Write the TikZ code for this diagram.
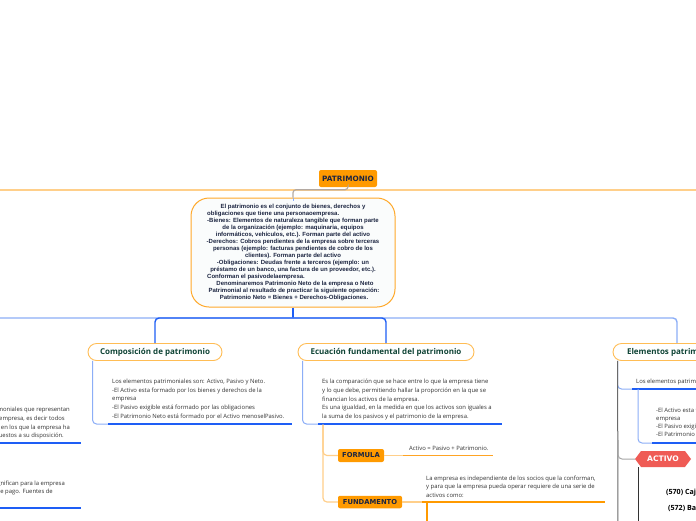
\documentclass[tikz,border=0pt]{standalone}
\usepackage{fontspec}
\setmainfont{Open Sans}
\newfontfamily\arialfam{Liberation Sans}
\newfontfamily\dejafam{DejaVu Sans}
\usetikzlibrary{shapes.symbols}

\definecolor{orbox}{HTML}{FF9A00}
\definecolor{orbord}{HTML}{FFA92B}
\definecolor{orpill}{HTML}{FFBD55}
\definecolor{orlight}{HTML}{FFCF8A}
\definecolor{ordark}{HTML}{FFA424}
\definecolor{blbright}{HTML}{1E5EF5}
\definecolor{bllight}{HTML}{8CAEF7}
\definecolor{navy}{HTML}{1C2541}
\definecolor{dgreen}{HTML}{0F4436}
\definecolor{txtc}{HTML}{333333}
\definecolor{actred}{HTML}{EF5B55}
\definecolor{linkgray}{HTML}{B4A9A1}
\definecolor{darkln}{HTML}{6A6A6A}
\definecolor{centfill}{HTML}{FAFCFC}

\newcommand\centfont{\arialfam\bfseries\fontsize{6.0}{7}\selectfont}
\newcommand\bodyfont{\fontsize{5.9}{7}\selectfont}
\newcommand\titlefont{\bfseries\fontsize{8}{9}\selectfont}
\newcommand\boxfont{\dejafam\bfseries\fontsize{6.8}{8}\selectfont}

\tikzset{
  pill/.style={draw=orpill, line width=0.9pt, fill=white, rounded corners=8.5pt,
    minimum height=17pt, inner sep=0pt, font=\titlefont, text=dgreen},
  obox/.style={fill=orbox, rounded corners=2pt, inner sep=0pt, font=\boxfont, text=navy},
  centline/.style={font=\centfont, text=navy, inner sep=0pt, anchor=base},
  centleft/.style={font=\centfont, text=navy, inner sep=0pt, anchor=base west},
  body/.style={font=\bodyfont, text=txtc, inner sep=0pt, anchor=base west},
  bodyr/.style={font=\bodyfont, text=txtc, inner sep=0pt, anchor=base east},
  acct/.style={font=\bfseries\fontsize{7.1}{8}\selectfont, text=black, inner sep=0pt, anchor=base west},
  bb/.style={draw=blbright, line width=1.4pt},
  bl/.style={draw=bllight, line width=1pt},
  ol/.style={draw=orlight, line width=1.2pt},
  od/.style={draw=ordark, line width=1.4pt},
  lg/.style={draw=linkgray, line width=1.2pt},
  dk/.style={draw=darkln, line width=1pt},
}

\begin{document}
\begin{tikzpicture}[x=1pt,y=-1pt]
\useasboundingbox (0,0) rectangle (696,520);
\clip (0,0) rectangle (696,520);
\fill[white] (0,0) rectangle (696,520);

% ---------- nodes ----------
\node[obox, minimum width=58pt, minimum height=17pt, font=\dejafam\bfseries\fontsize{7.3}{8}\selectfont] (patr) at (348,178.5) {PATRIMONIO};

\node[draw=orbord, line width=1pt, fill=centfill, rounded corners=18pt,
      minimum width=204pt, minimum height=109pt, inner sep=0pt] (cent) at (293,252.5) {};

\node[centline] (c1) at (293,208.5) {El patrimonio es el conjunto de bienes, derechos y};
\node[centleft] (c2) at (207,215.5) {obligaciones que tiene una personaoempresa.};
\node[centline] (c3) at (293,222.5) {-Bienes: Elementos de naturaleza tangible que forman parte};
\node[centline] (c4) at (293,229.6) {de la organización (ejemplo: maquinaria, equipos};
\node[centline] (c5) at (293,236.6) {informáticos, vehículos, etc.). Forman parte del activo};
\node[centline] (c6) at (293,243.6) {-Derechos: Cobros pendientes de la empresa sobre terceras};
\node[centline] (c7) at (293,250.6) {personas (ejemplo: facturas pendientes de cobro de los};
\node[centline] (c8) at (293,257.7) {clientes). Forman parte del activo};
\node[centline] (c9) at (293,264.7) {-Obligaciones: Deudas frente a terceros (ejemplo: un};
\node[centline] (c10) at (293,271.7) {préstamo de un banco, una factura de un proveedor, etc.).};
\node[centleft] (c11) at (207,278.7) {Conforman el pasivodelaempresa.};
\node[centline] (c12) at (295,285.8) {Denominaremos Patrimonio Neto de la empresa o Neto};
\node[centline] (c13) at (294,292.8) {Patrimonial al resultado de practicar la siguiente operación:};
\node[centline] (c14) at (294,299.8) {Patrimonio Neto = Bienes + Derechos-Obligaciones.};

\node[pill, minimum width=134pt] (comp) at (155,352) {Composición de patrimonio};
\node[pill, minimum width=176pt] (ecu) at (386,352) {Ecuación fundamental del patrimonio};
\node[pill, minimum width=128pt] (elem) at (677,352) {Elementos patrimoniales};

% Composicion text
\node[body] (k1) at (112,383.5) {Los elementos patrimoniales  son: Activo, Pasivo y Neto.};
\node[body] (k2) at (112,392.2) {-El Activo esta formado por los bienes y derechos de la};
\node[body] (k3) at (112,400.9) {empresa};
\node[body] (k4) at (112,409.6) {-El Pasivo exigible está formado por las obligaciones};
\node[body] (k5) at (112,418.3) {-El Patrimonio Neto está formado por el Activo menoselPasivo.};

% Ecuacion text
\node[body] (e1) at (322,383.8) { Es la comparación que se hace entre lo que la empresa tiene};
\node[body] (e2) at (322,392.4) {y lo que debe, permitiendo hallar la proporción en la que se};
\node[body] (e3) at (322,401.0) {financian los activos de la empresa.};
\node[body] (e4) at (322,409.6) {Es una igualdad, en la medida en que los activos son iguales a};
\node[body] (e5) at (322,418.2) {la suma de los pasivos y el patrimonio de la empresa.};

\node[obox, minimum width=46pt, minimum height=13pt] (form) at (361,455.5) {FORMULA};
\node[obox, minimum width=64pt, minimum height=12.5pt] (fund) at (370,502) {FUNDAMENTO};

\node[body] (f1) at (409,450.2) {Activo = Pasivo + Patrimonio.};
\node[body] (g1) at (426,480.0) {La empresa es independiente de los socios que la conforman,};
\node[body] (g2) at (426,488.6) {y para que la empresa pueda operar requiere de una serie de};
\node[body] (g3) at (426,497.2) {activos como:};

% Elementos text
\node[body] (m1) at (636,383.8) {Los elementos patrimoniales  son: Activo, Pasivo y Neto.};
\node[body] (m2) at (656,412.0) {-El Activo esta formado por los bienes y derechos de la};
\node[body] (m3) at (656,420.2) {empresa};
\node[body] (m4) at (656,428.4) {-El Pasivo exigible está formado por las obligaciones};
\node[body] (m5) at (656,436.6) {-El Patrimonio Neto está formado por el Activo menoselPasivo.};

\node[signal, signal to=west and east, signal pointer angle=106, fill=actred,
      minimum width=56pt, minimum height=16pt, inner sep=0pt, text=white,
      font=\dejafam\bfseries\fontsize{7.6}{8}\selectfont] (act) at (663,459) {ACTIVO};

\node[acct] (n570) at (666,494.5) {(570) Caja};
\node[acct] (n572) at (668,510.5) {(572) Bancos};

% left side (cut) text
\node[bodyr] (a1) at (70,411.8) {Son los elementos patrimoniales que representan};
\node[bodyr] (a2) at (65,420.4) {los bienes y derechos de la empresa, es decir todos};
\node[bodyr] (a3) at (70,429.0) {los recursos en los que la empresa ha};
\node[bodyr] (a4) at (64,437.6) {invertido o que tiene puestos a su disposición.};
\node[bodyr] (b1) at (65,485.0) {Son las obligaciones que significan para la empresa};
\node[bodyr] (b2) at (53,493.6) {un compromiso de pago. Fuentes de};

% ---------- coordinates ----------
\coordinate (tl) at (0,190);
\coordinate (tr) at (696,190);
\coordinate (hub) at (293,318);
\coordinate (lb) at (-40,345);
\coordinate (cu) at (108,424);
\coordinate (cue) at (292,424);
\coordinate (eu) at (318,424);
\coordinate (eue) at (502,424);
\coordinate (os) at (323,424.5);
\coordinate (fu1) at (403,455.5);
\coordinate (fu2) at (493,455.5);
\coordinate (fd1) at (422,502);
\coordinate (fd2) at (605,502);
\coordinate (fd3) at (427,502);
\coordinate (fd4) at (427,525);
\coordinate (el1) at (632,389);
\coordinate (el2) at (700,389);
\coordinate (ei0) at (638,389);
\coordinate (ei1) at (652,443);
\coordinate (ei2) at (700,443);
\coordinate (eb) at (618,525);
\coordinate (eact) at (618,440);
\coordinate (ab0) at (638,467);
\coordinate (ab1) at (638,525);
\coordinate (lu1) at (-10,443);
\coordinate (lu2) at (81,443);
\coordinate (lu3) at (-10,508);
\coordinate (lu4) at (81,508);

% ---------- connectors ----------
\draw[ol, line width=1.5pt] (tl) -- (tr);
\draw[lg, rounded corners=3pt] (patr.south) -- ++(0,2.5) -| (cent.north);
\draw[bl] ([yshift=-3pt]cent.north) -- (cent.north);

\draw[bb] (cent.south) -- (hub);
\draw[bl, line width=1.4pt, rounded corners=4pt] (hub) -| (lb);
\draw[bl, line width=1.4pt, rounded corners=4pt] (hub) -| (elem.north);
\draw[bb, rounded corners=4pt] (hub) -| (comp.north);
\draw[bb, rounded corners=4pt] (hub) -| (ecu.north);

\draw[bl, rounded corners=4pt] ([xshift=5pt]comp.south west) |- (cu);
\draw[bb] (cu) -- (cue);
\draw[bl, rounded corners=4pt] ([xshift=5pt]ecu.south west) |- (eu);
\draw[bb] (eu) -- (eue);

\draw[ol, rounded corners=4pt] (os) |- (form.west);
\draw[ol, rounded corners=4pt] (os) |- (fund.west);
\draw[ol] (form.east) -- (fu1);
\draw[od, line width=1.2pt] (fu1) -- (fu2);
\draw[ol] (fund.east) -- (fd1);
\draw[od, draw=orbox, line width=1.6pt] (fd1) -- (fd2);
\draw[od, draw=orbox, line width=1.6pt] (fd3) -- (fd4);

\draw[bl, rounded corners=4pt] ([xshift=5pt]elem.south west) |- (el1);
\draw[bb] (el1) -- (el2);
\draw[bl, rounded corners=4pt] (ei0) |- (ei1);
\draw[bb] (ei1) -- (ei2);
\draw[dk] ([xshift=5pt]elem.south west) -- (eb);
\draw[draw=gray!70, line width=1pt, rounded corners=4pt] (eact) |- (act.west);
\draw[dk, draw=black!80] (ab0) -- (ab1);

\draw[bb] (lu1) -- (lu2);
\draw[bb] (lu3) -- (lu4);
\end{tikzpicture}
\end{document}
